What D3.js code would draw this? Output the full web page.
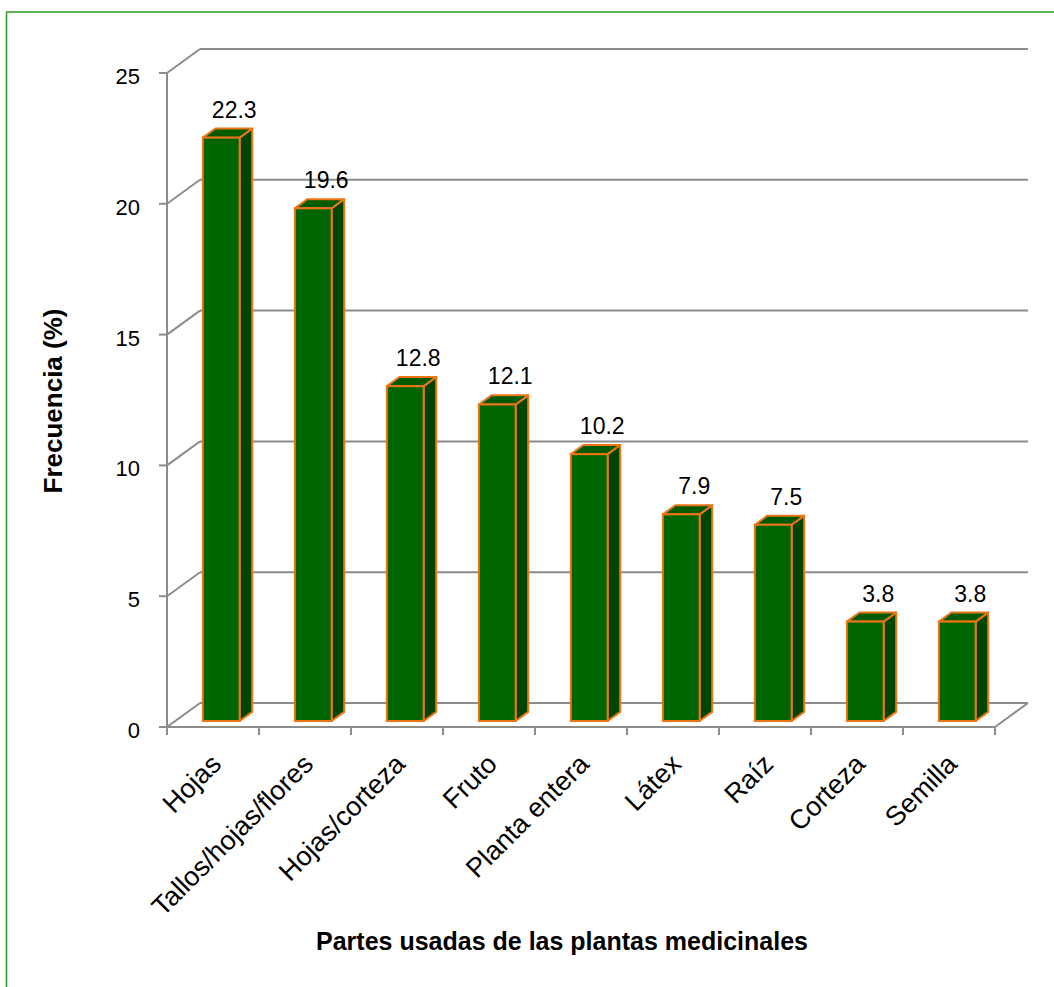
<!DOCTYPE html>
<html>
<head>
<meta charset="utf-8">
<script src="https://cdn.jsdelivr.net/npm/d3@7"></script>
<style>
  html, body { margin: 0; padding: 0; background: #ffffff; }
  svg { display: block; }
</style>
</head>
<body>
<script>
const categories = ["Hojas", "Tallos/hojas/flores", "Hojas/corteza", "Fruto", "Planta entera", "Látex", "Raíz", "Corteza", "Semilla"];
const values = [22.3, 19.6, 12.8, 12.1, 10.2, 7.9, 7.5, 3.8, 3.8];
const yTicks = [0, 5, 10, 15, 20, 25];
const yTitle = "Frecuencia (%)";
const xTitle = "Partes usadas de las plantas medicinales";

const W = 1054, H = 987;
const svg = d3.select("body").append("svg").attr("width", W).attr("height", H);

// border
svg.append("line").attr("x1", 6.5).attr("y1", 12).attr("x2", 6.5).attr("y2", H)
  .attr("stroke", "#2a922a").attr("stroke-width", 1.5);
svg.append("line").attr("x1", 6).attr("y1", 12).attr("x2", W).attr("y2", 12)
  .attr("stroke", "#5fb05f").attr("stroke-width", 2);

// 3D geometry
const DX = 33, DY = -24;       // depth of the plot box
const f0 = 0.25, fd = 0.38;    // bar start depth fraction, bar depth fraction
const x = d3.scaleBand().domain(categories).range([167, 995]);
const y = d3.scaleLinear().domain([0, 25]).range([727, 73]);
const barW = x.bandwidth() * 0.4;
const gridColor = "#8c8c8c";

const g = svg.append("g");

// back-wall gridlines and left-wall diagonals
yTicks.forEach(t => {
  const yy = y(t);
  g.append("line").attr("x1", 167 + DX).attr("x2", 995 + DX)
    .attr("y1", yy + DY).attr("y2", yy + DY)
    .attr("stroke", gridColor).attr("stroke-width", 2);
  g.append("line").attr("x1", 167).attr("y1", yy).attr("x2", 167 + DX).attr("y2", yy + DY)
    .attr("stroke", gridColor).attr("stroke-width", 2);
});
// floor right diagonal and front floor line
g.append("line").attr("x1", 995).attr("y1", y(0)).attr("x2", 995 + DX).attr("y2", y(0) + DY)
  .attr("stroke", gridColor).attr("stroke-width", 2);
g.append("line").attr("x1", 167).attr("y1", y(0)).attr("x2", 995).attr("y2", y(0))
  .attr("stroke", gridColor).attr("stroke-width", 2);
// vertical axis
g.append("line").attr("x1", 167).attr("y1", y(25)).attr("x2", 167).attr("y2", y(0))
  .attr("stroke", gridColor).attr("stroke-width", 2);

// y ticks & labels
yTicks.forEach(t => {
  g.append("line").attr("x1", 159).attr("x2", 167).attr("y1", y(t)).attr("y2", y(t))
    .attr("stroke", gridColor).attr("stroke-width", 2);
  g.append("text").attr("x", 140).attr("y", y(t) + 11)
    .attr("text-anchor", "end")
    .attr("font-family", "Liberation Sans, Arial, sans-serif").attr("font-size", 22)
    .attr("fill", "#000").text(t);
});

// category ticks
const bounds = categories.map(c => x(c)).concat([x(categories[categories.length - 1]) + x.bandwidth()]);
bounds.forEach(b => {
  g.append("line").attr("x1", b).attr("x2", b).attr("y1", y(0)).attr("y2", y(0) + 8)
    .attr("stroke", gridColor).attr("stroke-width", 2);
});

// bars
const sx0 = f0 * DX, sy0 = f0 * DY, ddx = fd * DX, ddy = fd * DY;
const stroke = "#EC7516";
categories.forEach((c, i) => {
  const v = values[i];
  const cx = x(c) + x.bandwidth() / 2;
  const x0 = cx - barW / 2 + sx0, x1 = cx + barW / 2 + sx0;
  const yt = y(v) + sy0, yb = y(0) + sy0;
  const bg = g.append("g");
  bg.append("polygon")
    .attr("points", [[x1, yt], [x1 + ddx, yt + ddy], [x1 + ddx, yb + ddy], [x1, yb]].map(p => p.join(",")).join(" "))
    .attr("fill", "#004600").attr("stroke", stroke).attr("stroke-width", 2).attr("stroke-linejoin", "round");
  bg.append("polygon")
    .attr("points", [[x0, yt], [x0 + ddx, yt + ddy], [x1 + ddx, yt + ddy], [x1, yt]].map(p => p.join(",")).join(" "))
    .attr("fill", "#005a00").attr("stroke", stroke).attr("stroke-width", 2).attr("stroke-linejoin", "round");
  bg.append("rect").attr("x", x0).attr("y", yt).attr("width", x1 - x0).attr("height", yb - yt)
    .attr("fill", "#006400").attr("stroke", stroke).attr("stroke-width", 2);
  // value label
  g.append("text").attr("x", cx + sx0 + 13).attr("y", yt - 20)
    .attr("text-anchor", "middle")
    .attr("font-family", "Liberation Sans, Arial, sans-serif").attr("font-size", 23)
    .attr("fill", "#000").text(v.toFixed(1));
});

// category labels
categories.forEach(c => {
  const cx = x(c) + x.bandwidth() / 2;
  g.append("text")
    .attr("transform", `translate(${cx + 3},759) rotate(-45)`)
    .attr("text-anchor", "end").attr("dy", "0.35em")
    .attr("font-family", "Liberation Sans, Arial, sans-serif").attr("font-size", 27)
    .attr("fill", "#000").text(c);
});

// axis titles
svg.append("text").attr("transform", "translate(62,401) rotate(-90)")
  .attr("text-anchor", "middle")
  .attr("font-family", "Liberation Sans, Arial, sans-serif").attr("font-size", 26).attr("font-weight", "bold")
  .attr("fill", "#000").text(yTitle);
svg.append("text").attr("x", 562).attr("y", 950)
  .attr("text-anchor", "middle")
  .attr("font-family", "Liberation Sans, Arial, sans-serif").attr("font-size", 25).attr("font-weight", "bold")
  .attr("fill", "#000").text(xTitle);
</script>
</body>
</html>
